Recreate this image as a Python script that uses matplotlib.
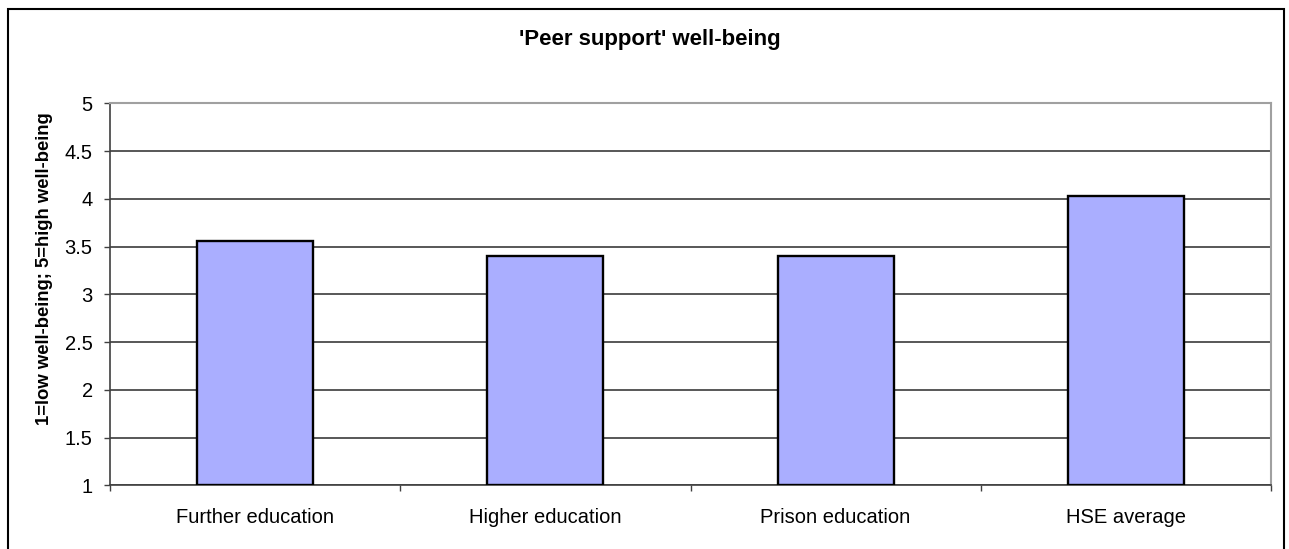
import matplotlib.pyplot as plt
import matplotlib.patches as mpatches
import numpy as np

plt.rcParams['font.family'] = ['Liberation Sans', 'DejaVu Sans']

categories = ['Further education', 'Higher education', 'Prison education', 'HSE average']
scores = [3.56, 3.40, 3.40, 4.03]
y_ticks = [1, 1.5, 2, 2.5, 3, 3.5, 4, 4.5, 5]

fig = plt.figure(figsize=(12.89, 5.49), dpi=100)
ax = fig.add_axes([110 / 1289, 1 - 485.3 / 549, (1271 - 110) / 1289, (485.3 - 103.3) / 549])

x = np.arange(len(categories))
ax.bar(x, [s - 1 for s in scores], bottom=1, width=0.4, color='#aaaeff',
       edgecolor='black', linewidth=1.7, zorder=3)

ax.set_xlim(-0.5, len(categories) - 0.5)
ax.set_ylim(1, 5)
ax.set_yticks(y_ticks)
ax.set_yticklabels([f'{t:g}' for t in y_ticks])
ax.yaxis.grid(True, color='#2a2a2a', linewidth=1.1, zorder=0)

# category boundaries get the tick marks, labels sit at the centres
ax.set_xticks(np.arange(-0.5, len(categories), 1))
ax.set_xticklabels([])
ax.set_xticks(x, minor=True)
ax.set_xticklabels(categories, minor=True)
ax.tick_params(axis='x', which='major', length=4, width=1, color='#404040')
ax.tick_params(axis='x', which='minor', length=0, pad=16, labelsize=14.5)
ax.tick_params(axis='y', length=4.5, width=1, color='#404040', pad=8, labelsize=14.5)

for side in ['left', 'bottom']:
    ax.spines[side].set_color('#404040')
    ax.spines[side].set_linewidth(1.2)
for side in ['top', 'right']:
    ax.spines[side].set_color('#a0a0a0')
    ax.spines[side].set_linewidth(1.5)

fig.text(650 / 1289, 1 - 40 / 549, "'Peer support' well-being", ha='center', va='center',
         fontsize=16, fontweight='bold')
fig.text(45 / 1289, 1 - 268.5 / 549, '1=low well-being; 5=high well-being', ha='center',
         va='center', rotation=90, fontsize=13.3, fontweight='bold')

# outer chart border
fig.patches.append(mpatches.Rectangle((7.5 / 1289, -0.05), (1284 - 7.5) / 1289, 1.05 - 8.5 / 549,
                                      transform=fig.transFigure, fill=False,
                                      edgecolor='black', linewidth=1.5))

fig.savefig('out.png', dpi=100)
